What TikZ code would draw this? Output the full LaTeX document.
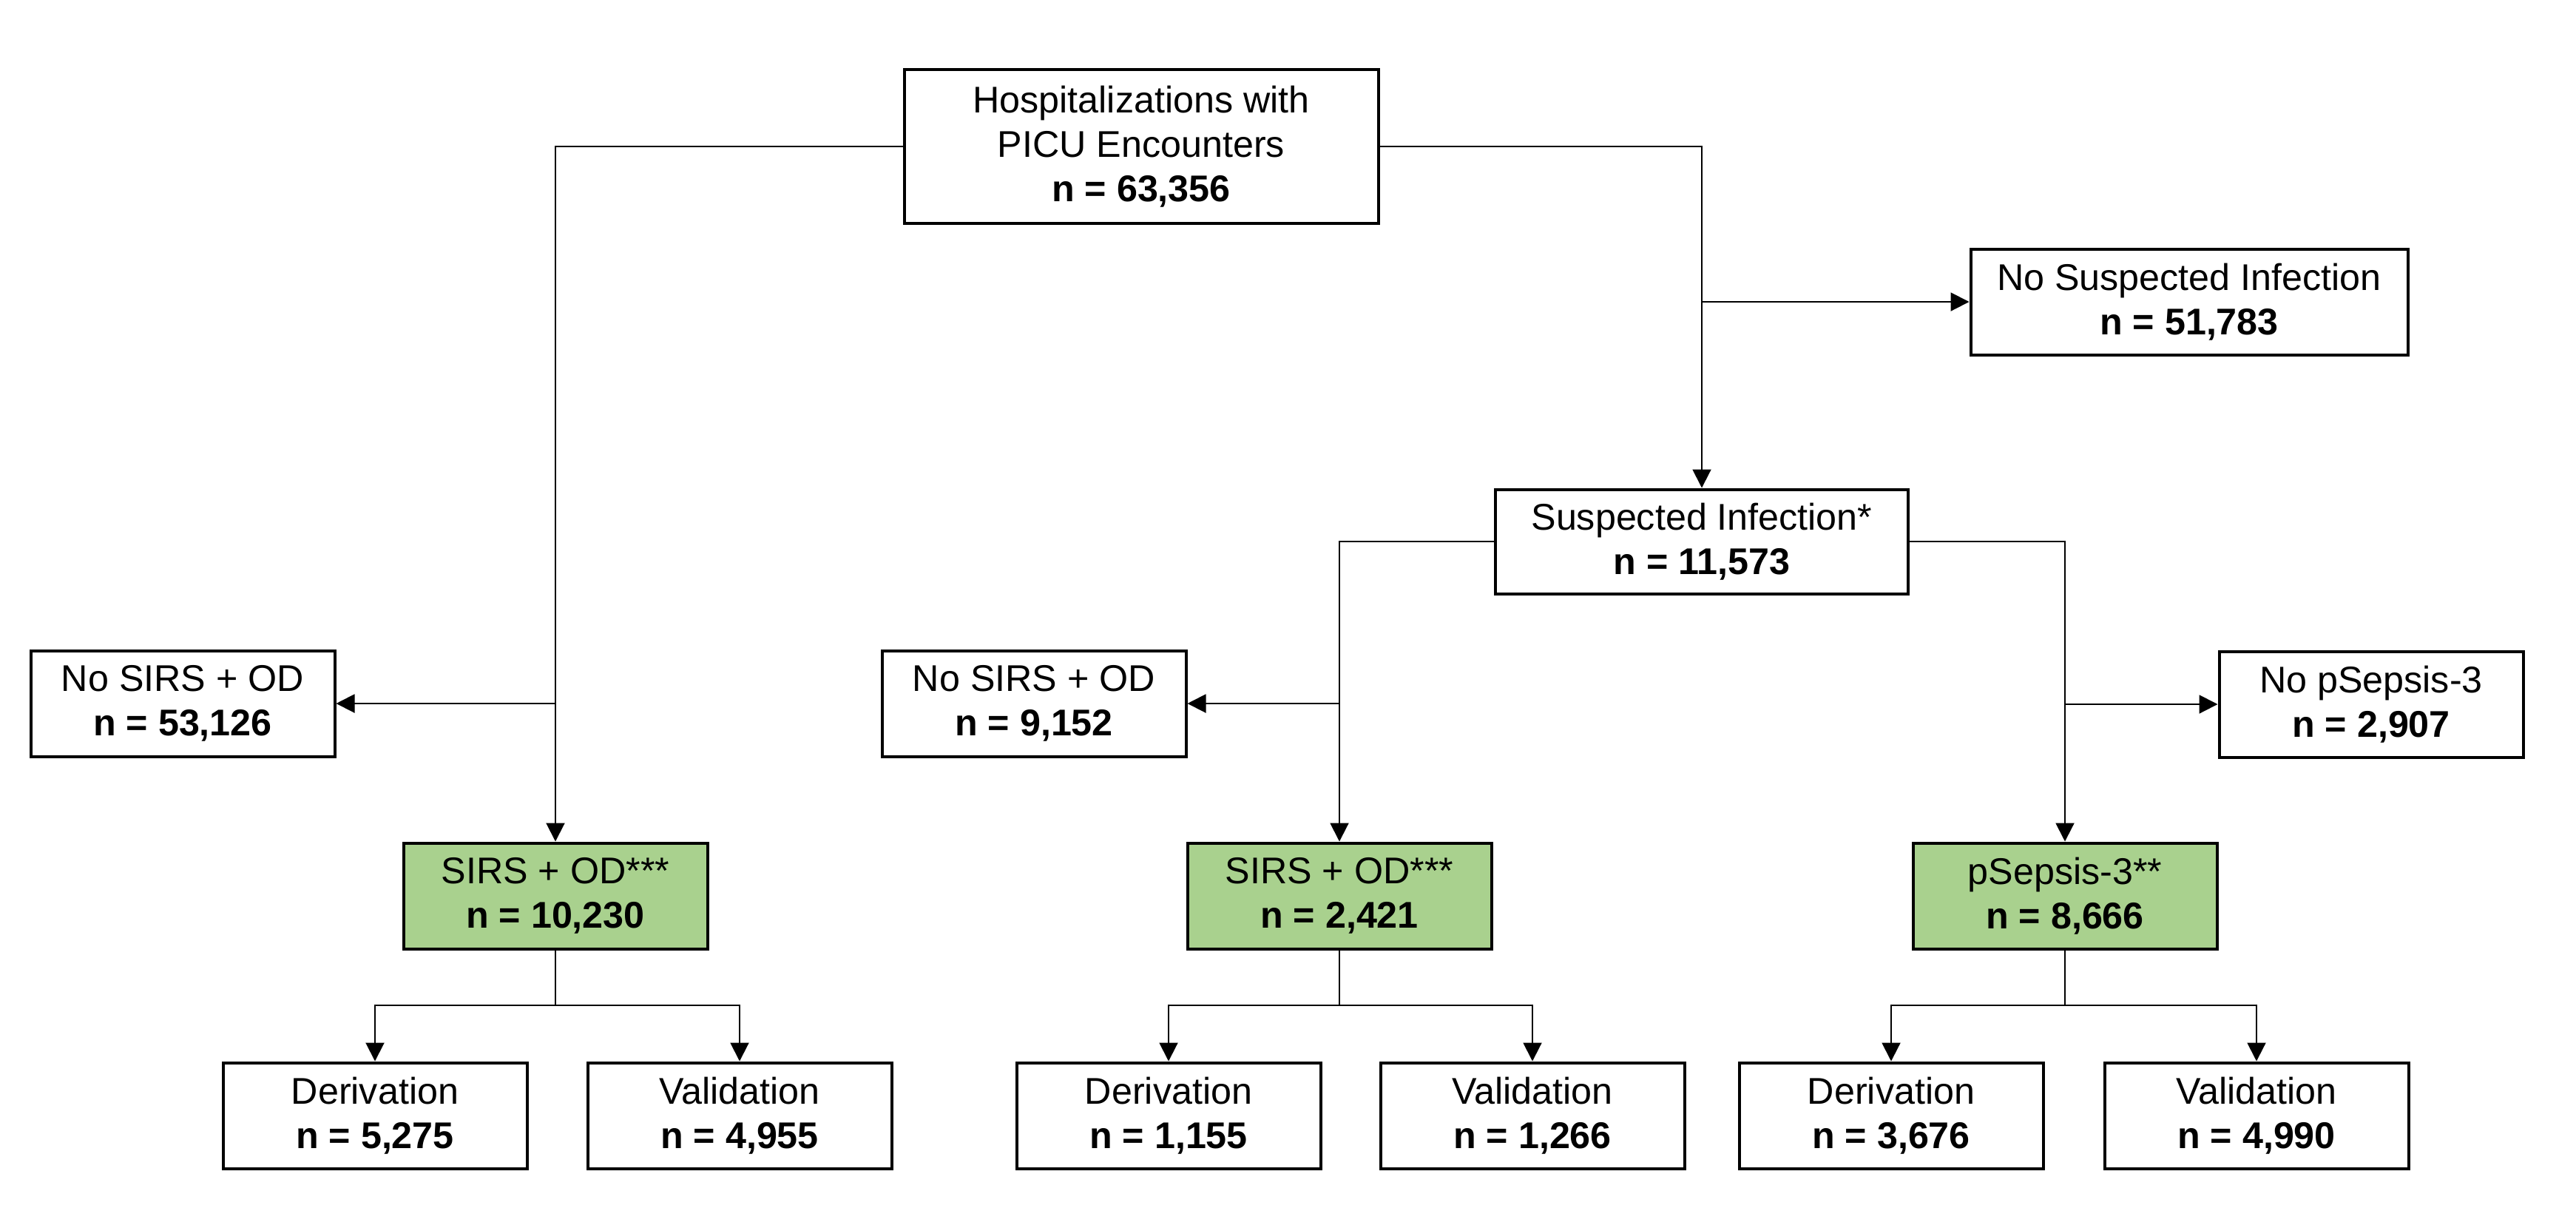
\documentclass[tikz,border=0pt]{standalone}
\usepackage{fontspec}
\setmainfont{Liberation Sans}
\usepackage{tikz}
\usepackage{xcolor}
\usetikzlibrary{arrows.meta}

\definecolor{boxgreen}{HTML}{A9D18E}

\begin{document}
\begin{tikzpicture}[
          box/.style={draw, line width=0.4mm, minimum width=4.11cm, minimum height=1.43cm, inner sep=0pt, align=center, font=\fontsize{14.3}{17.1}\selectfont, fill=white},
          hit/.style={box, fill=boxgreen},
          link/.style={line width=0.2mm},
          arr/.style={link, -{Triangle[length=2.5mm, width=2.5mm]}}
      ]
        \useasboundingbox (0,0) rectangle (34.83,-16.59);
        \node[box, minimum width=6.41cm, minimum height=2.08cm] (start) at (15.43,-1.98) {Hospitalizations with\\PICU Encounters\\\textbf{n = 63,356}};
        \node[box, minimum width=5.91cm] (noinf) at (29.60,-4.08) {No Suspected Infection\\\textbf{n = 51,783}};
        \node[box, minimum width=5.58cm, minimum height=1.41cm] (inf) at (23.01,-7.32) {Suspected Infection*\\\textbf{n = 11,573}};
        \node[box] (nosirsA) at (2.47,-9.51) {No SIRS + OD\\\textbf{n = 53,126}};
        \node[hit] (sirsA) at (7.51,-12.11) {SIRS + OD***\\\textbf{n = 10,230}};
        \node[box] (nosirsB) at (13.98,-9.51) {No SIRS + OD\\\textbf{n = 9,152}};
        \node[hit] (sirsB) at (18.11,-12.11) {SIRS + OD***\\\textbf{n = 2,421}};
        \node[box] (nosepsis) at (32.06,-9.52) {No pSepsis-3\\\textbf{n = 2,907}};
        \node[hit] (sepsis) at (27.92,-12.11) {pSepsis-3**\\\textbf{n = 8,666}};
        \node[box] (derA) at (5.07,-15.08) {Derivation\\\textbf{n = 5,275}};
        \node[box] (valA) at (10.00,-15.08) {Validation\\\textbf{n = 4,955}};
        \node[box] (derB) at (15.80,-15.08) {Derivation\\\textbf{n = 1,155}};
        \node[box] (valB) at (20.72,-15.08) {Validation\\\textbf{n = 1,266}};
        \node[box] (derC) at (25.57,-15.08) {Derivation\\\textbf{n = 3,676}};
        \node[box] (valC) at (30.51,-15.08) {Validation\\\textbf{n = 4,990}};
        \coordinate (splitA) at (7.51,-13.59);
        \coordinate (splitB) at (18.11,-13.59);
        \coordinate (splitC) at (27.92,-13.59);
        \draw[arr] (start.west) -| (sirsA.north);
        \draw[arr] (start.east) -| (inf.north);
        \draw[arr] (inf.north |- noinf.west) -- (noinf.west);
        \draw[arr] (sirsA.north |- nosirsA.east) -- (nosirsA.east);
        \draw[arr] (inf.west) -| (sirsB.north);
        \draw[arr] (sirsB.north |- nosirsB.east) -- (nosirsB.east);
        \draw[arr] (inf.east) -| (sepsis.north);
        \draw[arr] (sepsis.north |- nosepsis.west) -- (nosepsis.west);
        \draw[link] (sirsA.south) -- (splitA);
        \draw[arr] (splitA) -| (derA.north);
        \draw[arr] (splitA) -| (valA.north);
        \draw[link] (sirsB.south) -- (splitB);
        \draw[arr] (splitB) -| (derB.north);
        \draw[arr] (splitB) -| (valB.north);
        \draw[link] (sepsis.south) -- (splitC);
        \draw[arr] (splitC) -| (derC.north);
        \draw[arr] (splitC) -| (valC.north);
      \end{tikzpicture}
\end{document}
